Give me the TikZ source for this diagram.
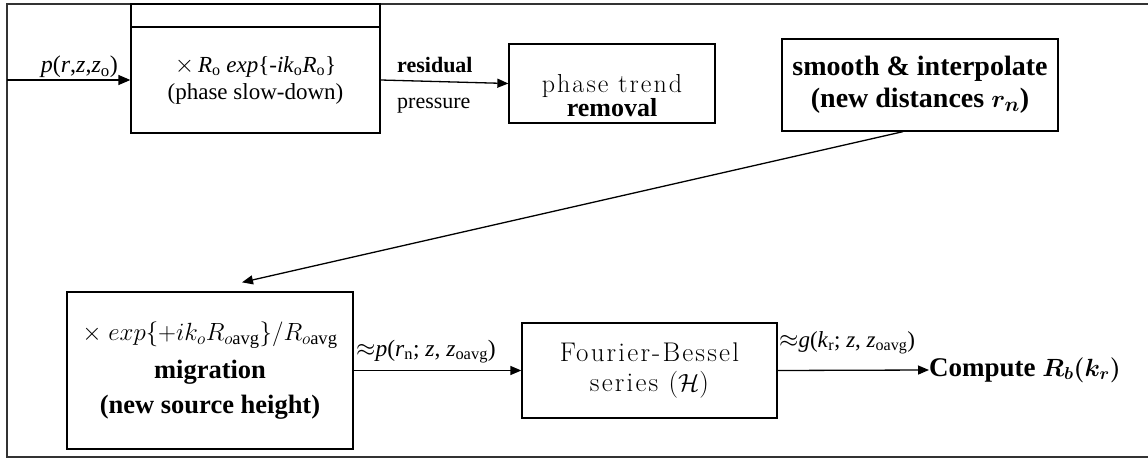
\documentclass[tikz,border=0pt]{standalone}
\usepackage{fontspec}
\setmainfont{Liberation Serif}
\newfontfamily\lmfont[LetterSpace=8]{Latin Modern Roman}
\usetikzlibrary{arrows.meta}
\tikzset{
  boxst/.style={draw, line width=1.3pt, inner sep=0pt, align=center},
  conn/.style={line width=1.3pt, -{Triangle[length=11pt,width=9pt]}},
  plainline/.style={line width=1.3pt},
  lbl/.style={inner sep=0pt},
}
\begin{document}
\begin{tikzpicture}[x=1pt,y=-1pt]
\useasboundingbox (0,0) rectangle (1148,460);
% frame
\coordinate (ftr) at (1148,4);
\coordinate (ftl) at (7,4);
\coordinate (fbl) at (7,457);
\coordinate (fbr) at (1148,457);
\draw[plainline, draw=black!80] (ftr) -- (ftl) -- (fbl) -- (fbr);
% box 1
\node[boxst, minimum width=249pt, minimum height=23pt] (b1h) at (255.5,15.5) {};
\node[boxst, minimum width=249pt, minimum height=106pt,
      font=\fontsize{23}{27}\selectfont] (b1) at (255.5,80)
  {$\times$\,\textit{R}\textsubscript{o} \textit{exp}\{-\textit{ik}\textsubscript{o}\textit{R}\textsubscript{o}\}\\(phase slow-down)};
% input
\coordinate (in) at (7,80);
\draw[conn, -{Triangle[length=12pt,width=10pt]}] (in) -- (b1.west);
\node[lbl, anchor=base east, font=\fontsize{24}{27}\selectfont] (lin) at (118,73)
  {\textit{p}(\textit{r},\textit{z},\textit{z}\textsubscript{o})};
% box 2
\node[boxst, minimum width=206pt, minimum height=79pt] (b2) at (612,83.5) {};
\node[lbl, align=center, font=\fontsize{26}{21}\selectfont] (b2t) at (612,96)
  {{\lmfont phase trend}\\\textbf{removal}};
\draw[conn] (b1.east) -- (b2.west);
\node[lbl, anchor=base west, font=\bfseries\fontsize{22}{26}\selectfont] (lres) at (397,72) {residual};
\node[lbl, anchor=base west, font=\fontsize{22}{26}\selectfont] (lpre) at (397,108) {pressure};
% box 3
\node[boxst, minimum width=276pt, minimum height=92pt,
      font=\bfseries\fontsize{28}{32}\selectfont] (b3) at (920,85)
  {smooth \& interpolate\\(new distances {\boldmath$r_n$})};
% box 4
\node[boxst, minimum width=286pt, minimum height=157pt,
      font=\fontsize{26.5}{36}\selectfont] (b4) at (210,370.5)
  {$\times\ exp\{+ik_oR_{o\mathrm{avg}}\}/R_{o\mathrm{avg}}$\\[2pt]
   {\bfseries\fontsize{26.5}{34}\selectfont migration}\\[-1pt]
   {\bfseries\fontsize{26.5}{34}\selectfont (new source height)}};
\draw[conn] ([xshift=-17pt]b3.south) -- ([xshift=32pt,yshift=9pt]b4.north);
% box 5
\node[boxst, minimum width=255pt, minimum height=95pt,
      font=\lmfont\fontsize{27}{30}\selectfont] (b5) at (649.5,370.5)
  {Fourier-Bessel\\series ($\mathcal{H}$)};
\draw[conn] (b4.east) -- (b5.west);
\node[lbl, anchor=base west, font=\fontsize{23.5}{26}\selectfont] (l45) at (356,356)
  {$\approx$\textit{p}(\textit{r}\textsubscript{n}; \textit{z}, \textit{z}\textsubscript{oavg})};
% compute
\node[lbl, anchor=west, font=\bfseries\fontsize{27}{30}\selectfont] (cmp) at (929,370)
  {Compute {\boldmath$R_b(k_r)$}};
\draw[conn] (b5.east) -- (cmp.west);
\node[lbl, anchor=base west, font=\fontsize{23}{26}\selectfont] (l5c) at (779,347)
  {$\approx$\textit{g}(\textit{k}\textsubscript{r}; \textit{z}, \textit{z}\textsubscript{oavg})};
\end{tikzpicture}
\end{document}
